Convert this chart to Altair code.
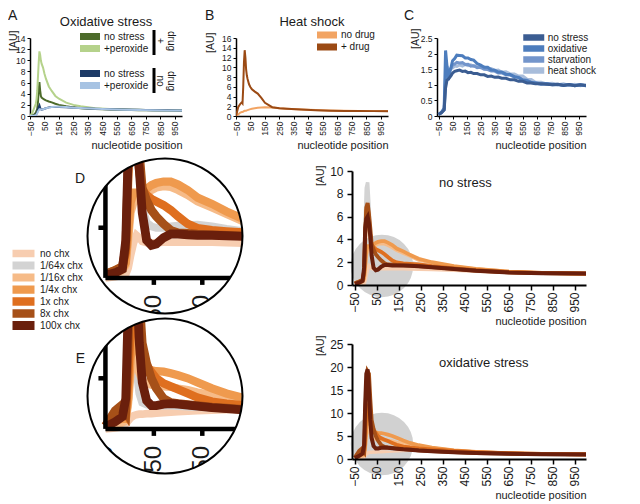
import math
import altair as alt
import pandas as pd

FONT = "Liberation Sans"
INK = "#1a1a1a"

# ---------------- data ----------------
XT = [-50, 50, 150, 250, 350, 450, 550, 650, 750, 850, 950]

# Panel A / B grid
XA = [-50, -35, -20, -10, -5, 0, 5, 10, 15, 20, 25, 30, 40, 50, 60, 80, 100, 125, 150, 200,
      250, 300, 400, 500, 600, 700, 800, 900, 1000]
A_DRUG_NOSTRESS = [0.0, 0.1, 0.3, 0.6, 0.9, 1.3, 2.5, 4.5, 6.1, 4.6, 3.6, 3.3, 3.1, 2.95, 2.8, 2.6, 2.45, 2.2, 2.0, 1.75,
                   1.55, 1.4, 1.25, 1.15, 1.1, 1.05, 1.02, 1.0, 1.0]
A_DRUG_PEROX = [0.0, 0.5, 1.5, 2.2, 3.0, 4.5, 7.0, 9.5, 11.6, 11.0, 10.0, 9.4, 8.7, 7.6, 6.7, 5.3, 4.5, 3.6, 3.1, 2.4,
                2.0, 1.75, 1.4, 1.25, 1.15, 1.1, 1.05, 1.02, 1.0]
A_NODRUG_NOSTRESS = [0.0, 0.05, 0.1, 0.2, 0.4, 0.7, 1.2, 1.6, 1.9, 1.5, 1.2, 1.15, 1.2, 1.3, 1.4, 1.55, 1.6, 1.62, 1.6, 1.55,
                     1.5, 1.45, 1.3, 1.2, 1.15, 1.1, 1.05, 1.02, 1.0]
A_NODRUG_PEROX = [0.0, 0.05, 0.1, 0.15, 0.3, 0.5, 0.8, 1.0, 1.2, 1.2, 1.15, 1.15, 1.2, 1.3, 1.4, 1.5, 1.6, 1.65, 1.65, 1.6,
                  1.5, 1.45, 1.3, 1.2, 1.12, 1.08, 1.04, 1.0, 1.0]
A_NAMES = ["no stress", "+peroxide"]
A_DRUG_COL = ["#4d6b2b", "#b5d28b"]
A_NODRUG_COL = ["#1c3a66", "#a7c3e3"]

B_NAMES = ["no drug", "+ drug"]
B_COL = ["#f2a463", "#9b4a14"]
B_NODRUG = [0.0, 0.3, 0.7, 0.8, 0.8, 0.9, 1.0, 1.1, 1.1, 1.1, 1.15, 1.2, 1.3, 1.4, 1.5, 1.6, 1.7, 1.75, 1.8, 1.75,
            1.6, 1.5, 1.35, 1.25, 1.15, 1.1, 1.05, 1.02, 1.0]
B_DRUG = [0.0, 1.8, 2.5, 2.8, 2.6, 6.0, 11.0, 13.5, 12.0, 9.5, 8.3, 7.6, 6.5, 5.9, 5.5, 5.0, 4.6, 3.7, 2.7, 1.8,
          1.6, 1.5, 1.35, 1.2, 1.1, 1.05, 1.02, 1.0, 1.0]

# Panel C
XC = [-50, -30, -10, 0, 10, 20, 30, 40, 50, 65, 80, 100, 120, 140, 160, 180, 200, 225, 250, 275,
      300, 325, 350, 375, 400, 430, 460, 490, 520, 550, 580, 610, 640, 680, 720, 760, 800, 840, 880, 920,
      960, 1000]
C_NAMES = ["no stress", "oxidative", "starvation", "heat shock"]
C_COL = ["#3b5d92", "#4d7dbd", "#7395cb", "#a8bddb"]
C_NOSTRESS = [0.05, 0.1, 0.2, 0.9, 1.15, 1.18, 1.24, 1.3, 1.38, 1.43, 1.45, 1.47, 1.43, 1.44, 1.39, 1.4, 1.36, 1.36, 1.32, 1.32,
              1.27, 1.28, 1.24, 1.25, 1.21, 1.21, 1.16, 1.16, 1.11, 1.11, 1.06, 1.06, 1.03, 1.03, 1.02, 1.0, 1.02, 0.98, 1.01, 0.97,
              1.0, 0.98]
C_OXID = [0.05, 0.12, 0.25, 2.1, 1.6, 1.15, 1.42, 1.58, 1.77, 1.84, 1.95, 1.94, 1.93, 1.86, 1.86, 1.81, 1.79, 1.68, 1.63, 1.56,
          1.56, 1.48, 1.47, 1.41, 1.41, 1.34, 1.33, 1.26, 1.23, 1.15, 1.13, 1.07, 1.06, 1.02, 1.03, 1.0, 1.01, 0.98, 1.01, 0.97,
          1.0, 0.97]
C_STARV = [0.05, 0.1, 0.2, 1.3, 1.6, 1.35, 1.47, 1.53, 1.64, 1.66, 1.72, 1.7, 1.71, 1.65, 1.66, 1.6, 1.61, 1.55, 1.56, 1.5,
           1.49, 1.44, 1.44, 1.38, 1.38, 1.32, 1.31, 1.25, 1.24, 1.17, 1.15, 1.08, 1.07, 1.03, 1.04, 1.01, 1.02, 0.99, 1.01, 0.98,
           1.0, 0.97]
C_HEAT = [0.05, 0.1, 0.2, 1.0, 1.3, 1.36, 1.41, 1.52, 1.54, 1.6, 1.59, 1.64, 1.6, 1.65, 1.61, 1.64, 1.6, 1.62, 1.55, 1.57,
          1.5, 1.52, 1.46, 1.47, 1.4, 1.42, 1.35, 1.35, 1.28, 1.28, 1.18, 1.17, 1.08, 1.08, 1.03, 1.05, 1.0, 1.03, 0.98, 1.02,
          0.97, 1.0]

# Panels no stress / oxidative stress (cycloheximide titration)
XZ = [-50, -30, -15, -8, -3, 2, 8, 14, 20, 26, 35, 45, 55, 70, 85, 100, 120, 140, 170, 200,
      240, 300, 400, 500, 650, 800, 1000]
CHX = ["no chx", "1/64x chx", "1/16x chx", "1/4x chx", "1x chx", "8x chx", "100x chx"]
CHX_COL = ["#f7cdb0", "#d3d3d3", "#f6bb88", "#ef9a4e", "#df6f1f", "#a65018", "#6a1f0c"]
CHX_W = [3.5, 4.0, 4.0, 3.5, 2.5, 2.5, 2.5]

NS_NONE = [0.0, 0.05, 0.1, 0.15, 0.4, 0.9, 1.4, 1.7, 1.6, 1.45, 1.4, 1.4, 1.4, 1.42, 1.42, 1.42, 1.42, 1.42, 1.42, 1.4,
           1.38, 1.35, 1.3, 1.2, 1.1, 1.04, 1.0]
NS_64 = [0.1, 0.15, 0.3, 1.0, 5.5, 8.5, 9.0, 7.0, 4.5, 2.8, 2.2, 2.05, 2.0, 2.0, 2.05, 2.08, 2.1, 2.12, 2.05, 1.95,
         1.85, 1.7, 1.5, 1.3, 1.12, 1.04, 1.0]
NS_16 = [0.08, 0.15, 0.3, 0.5, 1.5, 2.6, 3.0, 3.1, 3.1, 3.2, 3.35, 3.5, 3.6, 3.65, 3.62, 3.5, 3.3, 3.05, 2.8, 2.55,
         2.2, 1.95, 1.6, 1.4, 1.17, 1.05, 1.0]
NS_4 = [0.1, 0.2, 0.35, 0.6, 1.8, 3.0, 3.4, 3.4, 3.35, 3.4, 3.55, 3.7, 3.78, 3.84, 3.84, 3.72, 3.5, 3.2, 2.95, 2.65,
        2.3, 2.0, 1.65, 1.42, 1.18, 1.06, 1.0]
NS_1 = [0.15, 0.3, 0.45, 1.0, 4.0, 6.5, 7.0, 5.8, 4.2, 3.5, 3.3, 3.15, 3.05, 2.9, 2.7, 2.45, 2.15, 1.98, 1.9, 1.85,
        1.8, 1.65, 1.45, 1.3, 1.13, 1.05, 1.0]
NS_8 = [0.15, 0.3, 0.45, 1.2, 4.5, 6.8, 7.2, 6.2, 5.0, 3.6, 3.1, 2.7, 2.45, 2.15, 1.9, 1.8, 1.78, 1.75, 1.72, 1.7,
        1.67, 1.57, 1.42, 1.27, 1.12, 1.04, 1.0]
NS_100 = [0.1, 0.2, 0.35, 1.5, 5.0, 5.8, 6.0, 5.4, 4.3, 2.6, 1.5, 1.3, 1.35, 1.6, 1.75, 1.75, 1.72, 1.7, 1.7, 1.68,
          1.65, 1.55, 1.4, 1.25, 1.1, 1.03, 1.0]

OX_NONE = [0.0, 0.1, 0.2, 0.5, 0.8, 1.1, 1.3, 1.4, 1.45, 1.45, 1.5, 1.5, 1.55, 1.6, 1.65, 1.7, 1.75, 1.8, 1.85, 1.9,
           1.95, 1.85, 1.6, 1.4, 1.2, 1.08, 1.0]
OX_64 = [0.1, 0.3, 0.5, 0.8, 3.0, 7.0, 8.0, 6.0, 3.5, 2.6, 2.4, 2.3, 2.3, 2.3, 2.3, 2.25, 2.2, 2.15, 2.1, 2.0,
         1.9, 1.75, 1.5, 1.32, 1.15, 1.05, 1.0]
OX_16 = [0.1, 0.4, 0.6, 0.8, 2.5, 5.5, 7.0, 6.5, 5.5, 4.8, 4.5, 4.35, 4.25, 4.2, 4.15, 4.0, 3.85, 3.6, 3.35, 3.1,
         2.75, 2.4, 1.85, 1.5, 1.22, 1.08, 1.0]
OX_4 = [0.2, 0.8, 1.0, 1.0, 3.0, 7.0, 9.0, 8.8, 7.5, 6.5, 6.0, 5.8, 5.7, 5.65, 5.5, 5.3, 5.0, 4.6, 4.0, 3.5,
        3.0, 2.5, 1.9, 1.55, 1.25, 1.1, 1.0]
OX_1 = [0.3, 1.5, 2.0, 1.5, 5.0, 10.0, 12.0, 11.0, 8.5, 7.3, 6.3, 5.6, 5.0, 4.5, 4.2, 3.9, 3.5, 3.1, 2.7, 2.5,
        2.3, 2.1, 1.75, 1.5, 1.25, 1.1, 1.0]
OX_8 = [0.3, 1.8, 2.4, 1.8, 8.0, 16.0, 19.0, 18.5, 13.0, 8.5, 6.5, 5.0, 4.0, 3.0, 2.6, 2.5, 2.4, 2.3, 2.15, 2.05,
        1.9, 1.75, 1.5, 1.32, 1.16, 1.06, 1.0]
OX_100 = [0.2, 0.7, 1.2, 3.0, 12.0, 18.5, 19.5, 15.0, 8.5, 4.6, 2.8, 2.3, 2.3, 2.45, 2.5, 2.45, 2.35, 2.25, 2.1, 2.0,
          1.85, 1.7, 1.45, 1.3, 1.15, 1.05, 1.0]

ZOOM_CENTER_NS = [73, 1.67]
ZOOM_CENTER_OX = [73, 3.25]
ZOOM_TICKS = [-50, 50, 150, 250]

# ---------------- layout constants ----------------
TW, TH = 152, 78           # top panels
MW = 234                   # main bottom panels width
NS_H, OX_H = 114, 115
XDOM_MAIN = [-63, 1000]
SX = MW / (XDOM_MAIN[1] - XDOM_MAIN[0])
ZOOM = 2.2
ZS = 156                   # zoom panel size
R = 77.5                   # zoom circle radius


def long_df(x, names, arrays, field="series"):
    rows = []
    for n, arr in zip(names, arrays):
        rows += [{"pos": a, "val": b, field: n} for a, b in zip(x, arr)]
    return pd.DataFrame(rows)


def one():
    return pd.DataFrame({"k": [0]})


def vtext(txt, x, y, size, **kw):
    return alt.Chart(pd.DataFrame({"t": [txt]})).mark_text(
        fontSize=size, font=FONT, color=INK, **kw
    ).encode(text="t:N", x=alt.value(x), y=alt.value(y))


def legend(x, y, row_h, sym_len, sym_w, offset):
    return alt.Legend(orient="none", legendX=x, legendY=y, title=None, symbolType="stroke",
                      symbolSize=sym_len ** 2, symbolStrokeWidth=sym_w, clipHeight=row_h,
                      rowPadding=0, labelOffset=offset, labelFontSize=10, labelFont=FONT,
                      labelColor=INK, padding=0)


def top_x(width):
    return alt.Axis(values=XT, format="d", labelAngle=270, labelFontSize=8.5, labelPadding=2,
                    labelFlush=False, labelOverlap=False, tickSize=3, tickWidth=1, domainWidth=1.5,
                    title="nucleotide position", titleFontSize=11, titleX=width, titleY=32,
                    titleAlign="right", titleBaseline="alphabetic", titleAngle=0)


def top_y(values, tx, ty):
    return alt.Axis(values=values, format="~g", labelFontSize=8.5, labelPadding=2, labelFlush=False,
                    tickSize=3, tickWidth=1, domainWidth=1.5, title="[AU]", titleFontSize=10.5,
                    titleX=tx, titleY=ty, titleAlign="right", titleBaseline="middle", titleAngle=270)


def ind(c):
    return c.resolve_scale(color="independent", stroke="independent", strokeWidth="independent")


# ---------------- panel A ----------------
xA = alt.X("pos:Q", scale=alt.Scale(domain=[-50, 1000], nice=False, zero=False), axis=top_x(TW))
yA = alt.Y("val:Q", scale=alt.Scale(domain=[0, 14], nice=False), axis=top_y(list(range(0, 15, 2)), -17, -8))
a_drug = alt.Chart(long_df(XA, A_NAMES, [A_DRUG_NOSTRESS, A_DRUG_PEROX], "drug")).mark_line(
    strokeWidth=2, clip=True).encode(
    x=xA, y=yA,
    color=alt.Color("drug:N", scale=alt.Scale(domain=A_NAMES, range=A_DRUG_COL),
                    legend=legend(46.5, -7.5, 12, 20, 7, 0.5)))
a_nodrug = alt.Chart(long_df(XA, A_NAMES, [A_NODRUG_NOSTRESS, A_NODRUG_PEROX], "nodrug")).mark_line(
    strokeWidth=2, clip=True).encode(
    x=xA, y=yA,
    color=alt.Color("nodrug:N", scale=alt.Scale(domain=A_NAMES, range=A_NODRUG_COL),
                    legend=legend(46.5, 29.5, 12, 20, 7, 0.5)))
bar1 = alt.Chart(one()).mark_rule(strokeWidth=3, color="black").encode(x=alt.value(124), y=alt.value(-8), y2=alt.value(17))
bar2 = alt.Chart(one()).mark_rule(strokeWidth=3, color="black").encode(x=alt.value(124), y=alt.value(30), y2=alt.value(55))
panel_A = alt.layer(
    a_drug, a_nodrug, bar1, bar2,
    vtext("+", 130, 3, 10, angle=90),
    vtext("drug", 141, 3, 10, angle=90),
    vtext("no", 130, 43, 10, angle=90),
    vtext("drug", 141, 43, 10, angle=90),
    vtext("Oxidative stress", TW / 2, -12, 13, baseline="alphabetic"),
    vtext("A", -22, -18, 14, align="left", baseline="alphabetic"),
).resolve_scale(color="independent").properties(width=TW, height=TH)

# ---------------- panel B ----------------
xB = alt.X("pos:Q", scale=alt.Scale(domain=[-50, 1000], nice=False, zero=False), axis=top_x(TW))
yB = alt.Y("val:Q", scale=alt.Scale(domain=[0, 16], nice=False), axis=top_y(list(range(0, 17, 2)), -26, -6))
b_lines = alt.Chart(long_df(XA, B_NAMES, [B_NODRUG, B_DRUG])).mark_line(strokeWidth=2, clip=True).encode(
    x=xB, y=yB,
    color=alt.Color("series:N", scale=alt.Scale(domain=B_NAMES, range=B_COL),
                    legend=legend(77.5, -9, 12, 20, 7, 0.5)))
panel_B = alt.layer(
    b_lines,
    vtext("Heat shock", TW / 2, -12, 13, baseline="alphabetic"),
    vtext("B", -31, -18, 14, align="left", baseline="alphabetic"),
).properties(width=TW, height=TH)

# ---------------- panel C ----------------
CW = 149
xC = alt.X("pos:Q", scale=alt.Scale(domain=[-61, 1000], nice=False, zero=False), axis=top_x(CW))
yC = alt.Y("val:Q", scale=alt.Scale(domain=[0, 2.5], nice=False), axis=top_y([0, 0.5, 1, 1.5, 2, 2.5], -22, -10))
c_df = long_df(XC, C_NAMES[::-1], [C_HEAT, C_STARV, C_OXID, C_NOSTRESS])
c_lines = alt.Chart(c_df).mark_line(strokeWidth=3, clip=True).encode(
    x=xC, y=yC,
    color=alt.Color("series:N", scale=alt.Scale(domain=C_NAMES, range=C_COL),
                    legend=legend(82.75, -4.75, 8.5, 21, 6.5, 0)))
panel_C = alt.layer(
    c_lines,
    vtext("C", -33, -18, 14, align="left", baseline="alphabetic"),
).properties(width=CW, height=TH)


# ---------------- main bottom panels ----------------
def bottom_x():
    return alt.Axis(values=XT, format="d", labelAngle=270, labelFontSize=12, labelPadding=2, labelFlush=False,
                    labelOverlap=False, tickSize=5, tickWidth=1.5, domainWidth=2, zindex=1,
                    title="nucleotide position", titleFontSize=11, titleX=MW, titleY=39.5,
                    titleAlign="right", titleBaseline="alphabetic", titleAngle=0)


def bottom_y(values, ty):
    return alt.Axis(values=values, format="d", labelFontSize=12, labelPadding=4, labelFlush=False,
                    tickSize=5, tickWidth=1.5, domainWidth=2, zindex=1, title="[AU]", titleFontSize=10.5,
                    titleX=-32, titleY=ty, titleAlign="right", titleBaseline="middle", titleAngle=270)


def chx_color(leg):
    return alt.Color("series:N", scale=alt.Scale(domain=CHX, range=CHX_COL), legend=leg)


def chx_width(f):
    return alt.StrokeWidth("series:N", scale=alt.Scale(domain=CHX, range=[w * f for w in CHX_W]), legend=None)


def main_panel(df, ydom, yvals, height, center, subtitle, sub_y, au_y):
    X = alt.X("pos:Q", scale=alt.Scale(domain=XDOM_MAIN, nice=False, zero=False), axis=bottom_x())
    Y = alt.Y("val:Q", scale=alt.Scale(domain=ydom, nice=False), axis=bottom_y(yvals, au_y))
    r_main = R / ZOOM
    circ = alt.Chart(pd.DataFrame({"pos": [center[0]], "val": [center[1]]})).mark_circle(
        size=math.pi * r_main ** 2, color="#c9c9c9", opacity=0.85).encode(x=X, y=Y)
    lines = alt.Chart(df).mark_line(clip=True).encode(x=X, y=Y, color=chx_color(None), strokeWidth=chx_width(1))
    return alt.layer(circ, lines, vtext(subtitle, 87, sub_y, 13, align="left", baseline="alphabetic")).properties(
        width=MW, height=height)


NS_DF = long_df(XZ, CHX, [NS_NONE, NS_64, NS_16, NS_4, NS_1, NS_8, NS_100])
OX_DF = long_df(XZ, CHX, [OX_NONE, OX_64, OX_16, OX_4, OX_1, OX_8, OX_100])
SY_NS = NS_H / 10
SY_OX = OX_H / 25

panel_NS = main_panel(NS_DF, [0, 10], list(range(0, 11, 2)), NS_H, ZOOM_CENTER_NS, "no stress", 15.7, -6)
panel_OX = main_panel(OX_DF, [0, 25], list(range(0, 26, 5)), OX_H, ZOOM_CENTER_OX, "oxidative stress", 22.7, -9)


# ---------------- zoom circles ----------------
def zoom_panel(df, center, sy_main, ytick, letter, letter_y, leg):
    sx = SX * ZOOM
    sy = sy_main * ZOOM
    hw = (ZS / 2) / sx
    hh = (ZS / 2) / sy
    xs = alt.Scale(domain=[center[0] - hw, center[0] + hw], nice=False, zero=False)
    ys = alt.Scale(domain=[center[1] - hh, center[1] + hh], nice=False, zero=False)
    lines = alt.Chart(df).mark_line(clip=True).encode(
        x=alt.X("pos:Q", scale=xs, axis=None), y=alt.Y("val:Q", scale=ys, axis=None),
        color=chx_color(leg), strokeWidth=chx_width(ZOOM))
    tx = 7 / sx
    ty = 7 / sy
    rules_df = pd.DataFrame({
        "x1": [-50, -50, -50 - tx, 50, 150],
        "x2": [-50, center[0] + hw, -50, 50, 150],
        "y1": [0, 0, ytick, 0, 0],
        "y2": [center[1] + hh, 0, ytick, -ty, -ty],
    })
    rules = alt.Chart(rules_df).mark_rule(clip=True, color="black", strokeWidth=4.5).encode(
        x=alt.X("x1:Q", scale=xs, axis=None), x2="x2:Q", y=alt.Y("y1:Q", scale=ys, axis=None), y2="y2:Q")
    lab_df = pd.DataFrame({"pos": ZOOM_TICKS, "val": [-17 / sy] * len(ZOOM_TICKS),
                           "t": [str(v) for v in ZOOM_TICKS]})
    labels = alt.Chart(lab_df).mark_text(angle=270, align="right", baseline="middle", fontSize=24, font=FONT,
                                         color=INK, clip=True).encode(
        x=alt.X("pos:Q", scale=xs, axis=None), y=alt.Y("val:Q", scale=ys, axis=None), text="t:N")
    mask = alt.Chart(one()).mark_arc(theta=0, theta2=2 * math.pi, innerRadius=R, outerRadius=R * 1.6,
                                     color="white", clip=True).encode(x=alt.value(ZS / 2), y=alt.value(ZS / 2))
    ring = alt.Chart(one()).mark_arc(theta=0, theta2=2 * math.pi, innerRadius=R - 1, outerRadius=R + 1,
                                     color="black").encode(x=alt.value(ZS / 2), y=alt.value(ZS / 2))
    return alt.layer(lines, rules, labels, mask, ring,
                     vtext(letter, -2, letter_y, 14, align="right", baseline="alphabetic")).properties(
        width=ZS, height=ZS)


panel_D = zoom_panel(NS_DF, ZOOM_CENTER_NS, SY_NS, 2, "D", 25.3, legend(-79, 89.5, 12, 22, 6, 1))
panel_E = zoom_panel(OX_DF, ZOOM_CENTER_OX, SY_OX, 5, "E", 45, None)


def spacer(w, h):
    return alt.Chart(one()).mark_point(opacity=0).encode(
        x=alt.X("k:Q", axis=None), y=alt.Y("k:Q", axis=None)).properties(width=w, height=h)


# Nested concatenations laid out with "flush" bounds occupy no room of their own,
# so each spacing below is the offset of a sub-block from the previous one's origin.
top = ind(alt.hconcat(ind(alt.hconcat(panel_A, panel_B, spacing=54, bounds="flush")), panel_C,
                      spacing=407, bounds="flush"))
left = ind(alt.vconcat(panel_D, panel_E, spacing=4, bounds="flush"))
right = ind(alt.vconcat(spacer(MW, 13), ind(alt.vconcat(panel_NS, panel_OX, spacing=59, bounds="flush")),
                        spacing=0, bounds="flush"))
bottom = ind(alt.hconcat(ind(alt.hconcat(spacer(57, 10), left, spacing=0, bounds="flush")), right,
                         spacing=322, bounds="flush"))
chart = ind(alt.vconcat(top, bottom, spacing=120, bounds="flush")).properties(
    padding={"left": 0, "top": 1, "right": 4, "bottom": 4})

chart = chart.configure(font=FONT).configure_view(stroke=None).configure_axis(
    domainColor="black", tickColor="black", labelColor=INK, titleColor=INK, grid=False,
    labelFont=FONT, titleFont=FONT, titleFontWeight="normal")

chart.save("out.html", embed_options={"renderer": "svg", "actions": False})
